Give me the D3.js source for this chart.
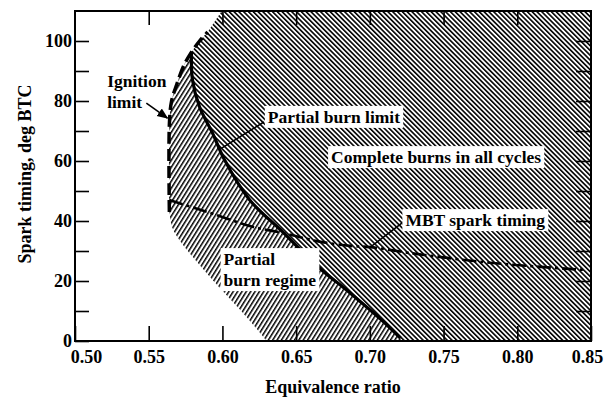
<!DOCTYPE html>
<html><head><meta charset="utf-8">
<script src="https://cdn.jsdelivr.net/npm/d3@7"></script>
<style>html,body{margin:0;padding:0;background:#fff}svg{display:block}text{font-family:"Liberation Serif","Times New Roman",serif;font-weight:bold}</style>
</head><body>
<script>
// ---- data ----
const xTicks = [0.50, 0.55, 0.60, 0.65, 0.70, 0.75, 0.80, 0.85];
const yTicks = [0, 10, 20, 30, 40, 50, 60, 70, 80, 90, 100];
const yLabels = [0, 20, 40, 60, 80, 100];
const ignitionLimit = [[0.564,43],[0.564,72],[0.5655,80],[0.569,85.5],[0.574,92],[0.579,96.3],[0.5845,100],[0.590,103]];
const upperEdge = [[0.590,103],[0.5995,110]];
const partialBurnLimit = [[0.579,96.3],[0.5797,87],[0.5845,78],[0.5933,69.3],[0.6015,60.3],[0.6185,47],[0.641,36.3],[0.6642,25],[0.6866,16],[0.7091,6.5],[0.7207,1]];
const partialOuterEdge = [[0.6301,0],[0.6151,8.7],[0.6008,16.3],[0.5845,25.3],[0.5708,33.7],[0.5661,37.7],[0.564,43]];
const mbtTiming = [[0.564,47],[0.596,42],[0.6185,38.3],[0.641,36],[0.6642,33.3],[0.6866,31.7],[0.7003,31.3],[0.7275,29.3],[0.7772,26.3],[0.8161,24.7],[0.8454,23.7]];

const W = 606, H = 399;
const x = d3.scaleLinear().domain([0.5, 0.85]).range([75, 591]);
const y = d3.scaleLinear().domain([0, 110]).range([341, 11]);

const svg = d3.select("body").append("svg").attr("width", W).attr("height", H);
svg.append("rect").attr("width", W).attr("height", H).attr("fill", "#fff");

const defs = svg.append("defs");
function hatch(id, spacing, lw, angle) {
  const p = defs.append("pattern").attr("id", id).attr("patternUnits", "userSpaceOnUse")
    .attr("width", spacing).attr("height", 10).attr("patternTransform", `rotate(${angle})`);
  p.append("rect").attr("x", 0).attr("y", 0).attr("width", lw).attr("height", 10).attr("fill", "#000");
}
hatch("hComplete", 3.4, 1.6, -45);
hatch("hPartial", 3.7, 1.5, 32);
defs.append("clipPath").attr("id", "plot").append("rect")
  .attr("x", x(0.5)).attr("y", y(110)).attr("width", x(0.85) - x(0.5)).attr("height", y(0) - y(110));
defs.append("marker").attr("id", "arr").attr("viewBox", "0 0 10 10").attr("refX", 9).attr("refY", 5)
  .attr("markerWidth", 7).attr("markerHeight", 7).attr("orient", "auto")
  .append("path").attr("d", "M0,1 L10,5 L0,9 Z").attr("fill", "#000");

const line = d3.line().x(d => x(d[0])).y(d => y(d[1])).curve(d3.curveCatmullRom);
const lineLin = d3.line().x(d => x(d[0])).y(d => y(d[1]));
const g = svg.append("g").attr("clip-path", "url(#plot)");

function joinPath(segs) {
  return segs.map((s, i) => {
    const p = (s.smooth ? line : lineLin)(s.pts);
    return i === 0 ? p : p.replace(/^M/, "L");
  }).join("") + "Z";
}
// complete burns region
g.append("path").attr("fill", "url(#hComplete)").attr("d", joinPath([
  {pts: ignitionLimit.slice(5), smooth: true},
  {pts: upperEdge, smooth: false},
  {pts: [[0.5995,110],[0.85,110],[0.85,0],[0.722,0],[0.7207,1]], smooth: false},
  {pts: partialBurnLimit.slice().reverse(), smooth: true}
]));
// partial burn regime
g.append("path").attr("fill", "url(#hPartial)").attr("d", joinPath([
  {pts: ignitionLimit.slice(0, 6), smooth: true},
  {pts: partialBurnLimit, smooth: true},
  {pts: [[0.7207,1],[0.722,0],[0.6301,0]], smooth: false},
  {pts: partialOuterEdge, smooth: true}
]));

// lines
g.append("path").attr("d", line(ignitionLimit)).attr("fill", "none").attr("stroke", "#000")
  .attr("stroke-width", 3.5).attr("stroke-dasharray", "12,5");
g.append("path").attr("d", line(partialBurnLimit)).attr("fill", "none").attr("stroke", "#000")
  .attr("stroke-width", 3.2);
g.append("path").attr("d", line(mbtTiming)).attr("fill", "none").attr("stroke", "#000")
  .attr("stroke-width", 2.6).attr("stroke-dasharray", "14,4,3,4");

// leader lines
function leader(a, b, arrow) {
  const l = svg.append("line").attr("x1", x(a[0])).attr("y1", y(a[1])).attr("x2", x(b[0])).attr("y2", y(b[1]))
    .attr("stroke", "#000").attr("stroke-width", 1.6);
  if (arrow) l.attr("marker-end", "url(#arr)");
}
leader([0.5995,64.3],[0.6281,73]);
leader([0.7003,31.3],[0.7228,39.7]);
leader([0.5484,79.3],[0.5627,74.3], true);

// labels with white background
const FS = 17.5;
function label(lines, x0, y0, lh, bg) {
  const t = svg.append("g");
  const txt = t.append("text").attr("font-size", FS).attr("fill", "#000");
  lines.forEach((s, i) => txt.append("tspan").attr("x", x(x0)).attr("y", y(y0) + i * lh).text(s));
  if (bg) {
    const b = txt.node().getBBox();
    t.insert("rect", "text").attr("x", b.x - 3).attr("y", b.y - 1).attr("width", b.width + 6).attr("height", b.height + 2).attr("fill", "#fff");
  }
}
label(["Ignition", "limit"], 0.5218, 84.7, 21, false);
label(["Partial burn limit"], 0.6308, 72.7, 0, true);
label(["Complete burns in all cycles"], 0.6737, 59.3, 0, true);
label(["MBT spark timing"], 0.7241, 38.3, 0, true);
label(["Partial", "burn regime"], 0.6008, 25.3, 21, true);

// axes
const tickW = 1.6;
const axB = svg.append("g").attr("transform", `translate(0,${y(0)})`)
  .call(d3.axisBottom(x).tickValues(xTicks).tickSize(-15).tickPadding(9).tickFormat(d3.format(".2f")));
const axT = svg.append("g").attr("transform", `translate(0,${y(110)})`)
  .call(d3.axisTop(x).tickValues(xTicks.slice(1, -1)).tickSize(-14).tickFormat(""));
const axL = svg.append("g").attr("transform", `translate(${x(0.5)},0)`)
  .call(d3.axisLeft(y).tickValues(yTicks).tickSize(-14).tickPadding(3).tickFormat(d => yLabels.includes(d) ? d : ""));
const axR = svg.append("g").attr("transform", `translate(${x(0.85)},0)`)
  .call(d3.axisRight(y).tickValues(yTicks.slice(1)).tickSize(-15).tickFormat(""));
[axB, axT, axL, axR].forEach(a => {
  a.select(".domain").remove();
  a.selectAll("line").attr("stroke", "#000").attr("stroke-width", tickW);
  a.selectAll("text").attr("font-size", 18).attr("fill", "#000").attr("font-family", "Liberation Serif").attr("font-weight", "bold");
});
axB.selectAll(".tick text").filter(d => d === 0.5).attr("dx", 11);
axB.selectAll(".tick text").filter(d => d === 0.85).attr("dx", -4);

// frame
svg.append("rect").attr("x", x(0.5)).attr("y", y(110)).attr("width", x(0.85) - x(0.5)).attr("height", y(0) - y(110))
  .attr("fill", "none").attr("stroke", "#000").attr("stroke-width", 2);

// axis titles
svg.append("text").attr("x", (x(0.5) + x(0.85)) / 2).attr("y", 393).attr("text-anchor", "middle")
  .attr("font-size", 18).text("Equivalence ratio");
svg.append("text").attr("transform", "rotate(-90)").attr("x", -174).attr("y", 31).attr("text-anchor", "middle")
  .attr("font-size", 18).text("Spark timing, deg BTC");
</script>
</body></html>
